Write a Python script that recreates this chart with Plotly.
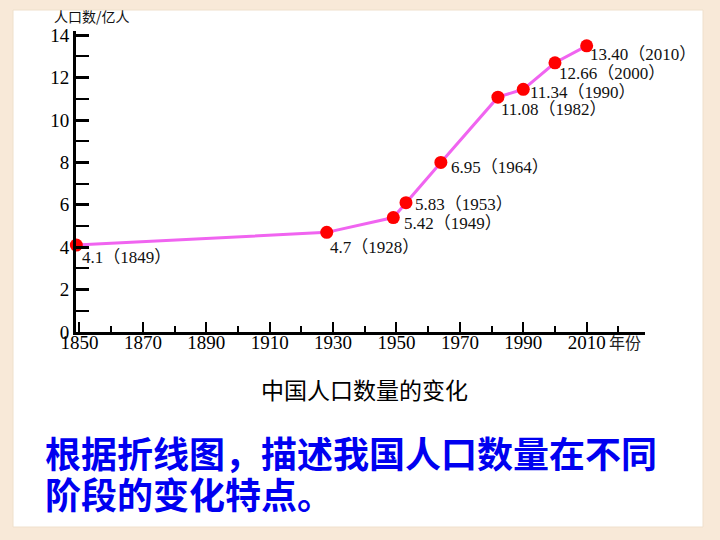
import plotly.graph_objects as go

# ---- data ----
years = [1849, 1928, 1949, 1953, 1964, 1982, 1990, 2000, 2010]
# vertical positions of the drawn markers (as drawn in the picture)
drawn_values = [4.1, 4.7, 5.4, 6.1, 8.0, 11.08, 11.45, 12.7, 13.5]
point_labels = ["4.1（1849）", "4.7（1928）", "5.42（1949）", "5.83（1953）",
                "6.95（1964）", "11.08（1982）", "11.34（1990）", "12.66（2000）",
                "13.40（2010）"]
x_tick_years = [1850, 1870, 1890, 1910, 1930, 1950, 1970, 1990, 2010]
y_tick_vals = [0, 2, 4, 6, 8, 10, 12, 14]

y_title = "人口数/亿人"
x_title = "年份"
caption = "中国人口数量的变化"
question_line1 = "根据折线图，描述我国人口数量在不同"
question_line2 = "阶段的变化特点。"

# ---- layout geometry (pixels) ----
W, H = 720, 540
ML, MR, MT, MB = 76, 75, 31, 208
PW, PH = W - ML - MR, H - MT - MB
BEIGE = "#F8E9D8"


def px_x(p):
    return (p - ML) / PW


def px_y(p):
    return (H - MB - p) / PH


serif = "Liberation Serif, Noto Sans CJK SC, serif"
cjk = "Noto Sans CJK SC, sans-serif"

fig = go.Figure()
fig.add_trace(go.Scatter(
    x=years, y=drawn_values, mode="lines+markers",
    line=dict(color="#F064F0", width=3),
    marker=dict(color="#FF0000", size=13, line=dict(width=0)),
    cliponaxis=False, hoverinfo="skip", showlegend=False,
))

# label offsets (pixels) relative to each marker
offsets = [(4, -12), (1, -15), (9, -6), (7, -2), (8, -5), (1, -12), (5, -3), (2, -11), (1, -9)]
for xv, yv, txt, (dx, dy) in zip(years, drawn_values, point_labels, offsets):
    fig.add_annotation(x=xv, y=yv, text=txt, showarrow=False,
                       xanchor="left", yanchor="middle", xshift=dx, yshift=dy,
                       font=dict(family=serif, size=17, color="#111111"))

# axis titles / captions
fig.add_annotation(xref="paper", yref="paper", x=px_x(52), y=px_y(16), text=y_title,
                   showarrow=False, xanchor="left", yanchor="middle",
                   font=dict(family=cjk, size=14, color="#111111"))
fig.add_annotation(xref="paper", yref="paper", x=px_x(607), y=px_y(342), text=x_title,
                   showarrow=False, xanchor="left", yanchor="middle",
                   font=dict(family=cjk, size=16, color="#222222"))
fig.add_annotation(xref="paper", yref="paper", x=px_x(364), y=px_y(389), text=caption,
                   showarrow=False, xanchor="center", yanchor="middle",
                   font=dict(family=cjk, size=23, color="#000000"))
fig.add_annotation(xref="paper", yref="paper", x=px_x(43), y=px_y(452), text="<b>" + question_line1 + "</b>",
                   showarrow=False, xanchor="left", yanchor="middle",
                   font=dict(family=cjk, size=36, color="#0000F0"))
fig.add_annotation(xref="paper", yref="paper", x=px_x(43), y=px_y(493), text="<b>" + question_line2 + "</b>",
                   showarrow=False, xanchor="left", yanchor="middle",
                   font=dict(family=cjk, size=36, color="#0000F0"))

# white slide panel
fig.add_shape(type="rect", xref="paper", yref="paper", layer="below",
              x0=px_x(13), x1=px_x(703), y0=px_y(527), y1=px_y(10),
              fillcolor="#FFFFFF", line=dict(color="#EFE0CC", width=1))

fig.update_xaxes(
    range=[1848.9, 2028.4], tickmode="array", tickvals=x_tick_years,
    ticks="inside", ticklen=10, tickwidth=2, tickcolor="#000000",
    minor=dict(dtick=10, tick0=1850, ticks="inside", ticklen=6, tickwidth=1.5, tickcolor="#000000"),
    showline=True, linecolor="#000000", linewidth=2.5, showgrid=False, zeroline=False,
    tickfont=dict(family=serif, size=19, color="#000000"), ticklabelstandoff=-9,
    fixedrange=True,
)
fig.update_yaxes(
    range=[0, 14.2], tickmode="array", tickvals=y_tick_vals,
    ticks="inside", ticklen=13, tickwidth=2.5, tickcolor="#000000",
    minor=dict(dtick=1, tick0=0, ticks="inside", ticklen=13, tickwidth=1.5, tickcolor="#000000"),
    showline=True, linecolor="#000000", linewidth=3, showgrid=False, zeroline=False,
    tickfont=dict(family=serif, size=19, color="#000000"), fixedrange=True,
)
fig.update_layout(
    width=W, height=H, margin=dict(l=ML, r=MR, t=MT, b=MB, pad=0),
    paper_bgcolor=BEIGE, plot_bgcolor="rgba(0,0,0,0)", showlegend=False,
)
fig.write_html(
    "out.html",
    config={"displayModeBar": False},
    post_script="document.body.style.margin='0';document.body.style.background='" + BEIGE + "';",
)
